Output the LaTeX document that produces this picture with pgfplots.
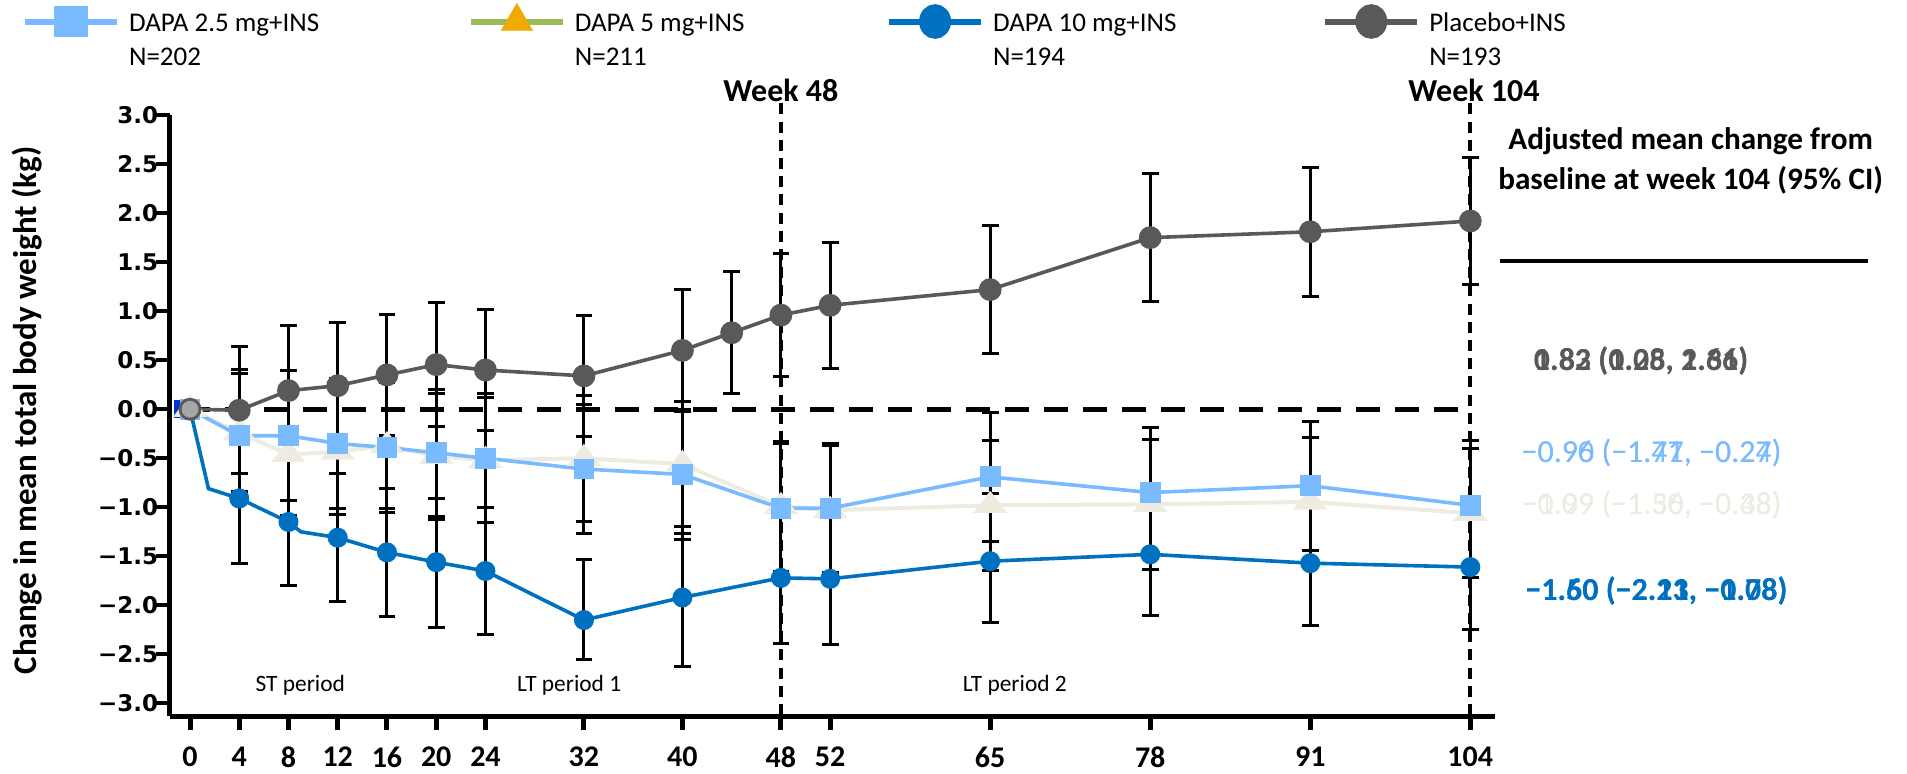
\documentclass[border=0pt]{standalone}
\usepackage{fontspec}
\setmainfont{Carlito}
\newfontfamily\dejav{DejaVu Sans}
\usepackage{pgfplots}
\usepackage{pgfplotstable}
\pgfplotsset{compat=1.18}

\definecolor{lblue}{HTML}{7ABAFF}
\definecolor{beige}{HTML}{EEECE1}
\definecolor{dblue}{HTML}{0070C0}
\definecolor{pgray}{HTML}{595959}
\definecolor{lgray}{HTML}{A6A6A6}
\definecolor{royal}{HTML}{0033CC}
\definecolor{leggreen}{HTML}{9BBB59}
\definecolor{legorange}{HTML}{F0AB00}

% week, mean change (kg), half width of 95% CI
\pgfplotstableread{
w v e
0 0 0
4 -0.01 0.65
8 0.19 0.66
12 0.24 0.64
16 0.35 0.62
20 0.455 0.63
24 0.40 0.62
32 0.34 0.62
40 0.60 0.62
44 0.78 0.62
48 0.96 0.63
52 1.06 0.64
65 1.22 0.65
78 1.75 0.65
91 1.81 0.66
104 1.92 0.65
}\placebo

\pgfplotstableread{
w v e
0 0 0
4 -0.27 0.68
8 -0.27 0.66
12 -0.35 0.66
16 -0.39 0.66
20 -0.445 0.65
24 -0.50 0.66
32 -0.61 0.66
40 -0.665 0.66
48 -1.01 0.66
52 -1.01 0.66
65 -0.69 0.66
78 -0.85 0.66
91 -0.78 0.66
104 -0.98 0.66
}\dtwo

\pgfplotstableread{
w v e
0 0 0
4 -0.24 0.60
8 -0.46 0.62
12 -0.435 0.64
16 -0.37 0.64
20 -0.48 0.64
24 -0.52 0.64
32 -0.50 0.64
40 -0.56 0.64
48 -0.99 0.66
52 -1.03 0.66
65 -0.98 0.66
78 -0.97 0.66
91 -0.945 0.66
104 -1.06 0.66
}\dfive

% all points of the 10 mg line (some without marker)
\pgfplotstableread{
w v
0 0
1.5 -0.81
4 -0.91
8 -1.15
9 -1.25
12 -1.31
16 -1.46
20 -1.56
24 -1.65
32 -2.15
40 -1.92
48 -1.72
52 -1.73
65 -1.55
78 -1.48
91 -1.57
104 -1.61
}\dtenline

\pgfplotstableread{
w v ep em
4 -0.91 0.66 0.66
8 -1.15 0.65 0.65
12 -1.31 0.65 0.65
16 -1.46 0.65 0.65
20 -1.56 0.65 0.67
24 -1.65 0.65 0.65
32 -2.15 0.62 0.40
40 -1.92 0.65 0.70
48 -1.72 0.65 0.67
52 -1.73 0.65 0.67
65 -1.55 0.69 0.63
78 -1.48 0.62 0.62
91 -1.57 0.64 0.64
104 -1.61 0.64 0.64
}\dten

\begin{document}
\begin{tikzpicture}
\begin{axis}[name=ax, scale only axis, width=662.6pt, height=300.5pt,
    xmin=-1.65, xmax=106, ymin=-3.13, ymax=3.0,
    clip=false,
    axis x line*=bottom, axis y line*=left,
    axis line style={line width=2.5pt},
    /pgf/number format/assume math mode=true,
    xtick={0,4,8,12,16,20,24,32,40,48,52,65,78,91,104},
    ytick={-3,-2.5,-2,-1.5,-1,-0.5,0,0.5,1,1.5,2,2.5,3},
    yticklabels={−3.0,−2.5,−2.0,−1.5,−1.0,−0.5,0.0,0.5,1.0,1.5,2.0,2.5,3.0},
    tick align=outside,
    xtick style={line width=2.5pt, black, /pgfplots/major tick length=7pt},
    ytick style={line width=2pt, black, /pgfplots/major tick length=7pt},
    xticklabel style={font=\bfseries\fontsize{15}{15}\selectfont, yshift=-7.5pt},
    yticklabel style={font=\dejav\bfseries\fontsize{11.5}{11.5}\selectfont, xshift=2pt},
    legend columns=4,
    legend style={at={(-0.1117,1.1937)}, anchor=north west, draw=none, fill=none,
      inner sep=0pt, column sep=0pt, row sep=0pt,
      nodes={inner sep=0pt}, cells={anchor=base west},
      font=\fontsize{13.5}{17.2}\selectfont},
    legend image code/.code={
      \path[draw=none, fill=none] (0pt,-4pt) rectangle (52pt,16pt);
      \draw[mark repeat=2,mark phase=2,#1] plot coordinates {(0pt,4.8pt) (23pt,4.8pt) (46pt,4.8pt)};},
    error bars/error bar style={black, line width=1.5pt},
    error bars/error mark options={black, line width=1.5pt, mark size=4.2pt, rotate=90},
  ]

% legend
\addlegendimage{color=lblue, line width=3pt, mark=square*, mark size=7pt, mark options={yscale=0.9}}
\addlegendentry{\parbox[t]{169.4pt}{DAPA 2.5 mg+INS\\N=202}}
\addlegendimage{color=leggreen, line width=3pt, mark=triangle*, mark size=9.2pt,
  mark options={fill=legorange, draw=legorange, line width=0.1pt}}
\addlegendentry{\parbox[t]{155.6pt}{DAPA 5 mg+INS\\N=211}}
\addlegendimage{color=dblue, line width=3pt, mark=*, mark size=6.5pt, mark options={yscale=1.1}}
\addlegendentry{\parbox[t]{164.6pt}{DAPA 10 mg+INS\\N=194}}
\addlegendimage{color=pgray, line width=3pt, mark=*, mark size=6.5pt, mark options={yscale=1.1}}
\addlegendentry{\parbox[t]{80pt}{Placebo+INS\\N=193}}

% reference lines
\addplot[forget plot, black, line width=2.6pt, dash pattern=on 12pt off 7.5pt] coordinates {(-0.3,0) (104,0)};
\addplot[forget plot, black, line width=2pt, dash pattern=on 5.5pt off 3.6pt] coordinates {(48,3.12) (48,-3.13)};
\addplot[forget plot, black, line width=2pt, dash pattern=on 5.5pt off 3.6pt] coordinates {(104,3.12) (104,-3.13)};

% 95% CI bars
\addplot[forget plot, black, only marks, mark=*, mark size=0.01pt, error bars/.cd, y dir=both, y explicit]
  table[x=w, y=v, y error=e]{\placebo};
\addplot[forget plot, black, only marks, mark=*, mark size=0.01pt, error bars/.cd, y dir=both, y explicit]
  table[x=w, y=v, y error=e]{\dtwo};
\addplot[forget plot, black, only marks, mark=*, mark size=0.01pt, error bars/.cd, y dir=both, y explicit]
  table[x=w, y=v, y error=e]{\dfive};
\addplot[forget plot, black, only marks, mark=*, mark size=0.01pt, error bars/.cd, y dir=both, y explicit]
  table[x=w, y=v, y error plus=ep, y error minus=em]{\dten};

% series
\addplot[forget plot, only marks, mark=square*, royal, mark size=4.3pt] coordinates {(-0.6,0)};
\addplot[forget plot, beige, line width=2pt, mark=triangle*, mark size=7.5pt,
  mark options={yscale=0.75}] table[x=w, y=v]{\dfive};
\addplot[forget plot, lblue, line width=1.8pt, mark=square*, mark size=4.3pt] table[x=w, y=v]{\dtwo};
\addplot[forget plot, dblue, line width=1.8pt, mark=none] table[x=w, y=v]{\dtenline};
\addplot[forget plot, only marks, dblue, mark=*, mark size=4.8pt] table[x=w, y=v]{\dten};
\addplot[forget plot, pgray, line width=1.8pt, mark=*, mark size=4.8pt] table[x=w, y=v]{\placebo};
\addplot[forget plot, only marks, lgray, mark=*, mark size=4pt] coordinates {(0,0)};

% right-hand summary
\addplot[forget plot, black, line width=2pt] coordinates {(106.4,1.507) (136.3,1.507)};
\node[font=\bfseries\fontsize{15.6}{20}\selectfont, align=center] at (axis cs:121.9,2.535)
  {Adjusted mean change from\\baseline at week 104 (95\% CI)};
\node[anchor=west, text=pgray, font=\bfseries\fontsize{16}{16}\selectfont] at (axis cs:108.6,0.49) {0.83 (0.28, 1.36)};
\node[anchor=west, text=pgray, font=\bfseries\fontsize{16}{16}\selectfont] at (axis cs:108.6,0.49) {1.82 (1.05, 2.61)};
\node[anchor=west, text=lblue, font=\fontsize{16}{16}\selectfont] at (axis cs:107.6,-0.45) {−0.90 (−1.47, −0.24)};
\node[anchor=west, text=lblue, font=\fontsize{16}{16}\selectfont] at (axis cs:107.6,-0.45) {−0.96 (−1.71, −0.27)};
\node[anchor=west, text=beige, font=\fontsize{16}{16}\selectfont] at (axis cs:107.6,-0.975) {−0.99 (−1.50, −0.48)};
\node[anchor=west, text=beige, font=\fontsize{16}{16}\selectfont] at (axis cs:107.6,-0.975) {−1.09 (−1.36, −0.38)};
\node[anchor=west, text=dblue, font=\bfseries\fontsize{16}{16}\selectfont] at (axis cs:107.9,-1.85) {−1.50 (−2.21, −0.78)};
\node[anchor=west, text=dblue, font=\bfseries\fontsize{16}{16}\selectfont] at (axis cs:107.9,-1.85) {−1.60 (−2.13, −1.08)};

% week markers and periods
\node[font=\bfseries\fontsize{16}{16}\selectfont] at (axis cs:48,3.255) {Week 48};
\node[font=\bfseries\fontsize{16}{16}\selectfont] at (axis cs:104.3,3.255) {Week 104};
\node[font=\fontsize{11.7}{11.7}\selectfont] at (axis cs:8.96,-2.82) {ST period};
\node[font=\fontsize{11.7}{11.7}\selectfont] at (axis cs:30.8,-2.82) {LT period 1};
\node[font=\fontsize{11.7}{11.7}\selectfont] at (axis cs:67,-2.82) {LT period 2};

\node[rotate=90, font=\bfseries\fontsize{16.5}{16.5}\selectfont] at (rel axis cs:-0.1077,0.5085)
  {Change in mean total body weight (kg)};
\end{axis}
\pgfresetboundingbox
\path[use as bounding box] ([xshift=-84.85pt,yshift=-28.45pt]ax.south west) rectangle ++(953.5pt,386.5pt);
\end{tikzpicture}
\end{document}
